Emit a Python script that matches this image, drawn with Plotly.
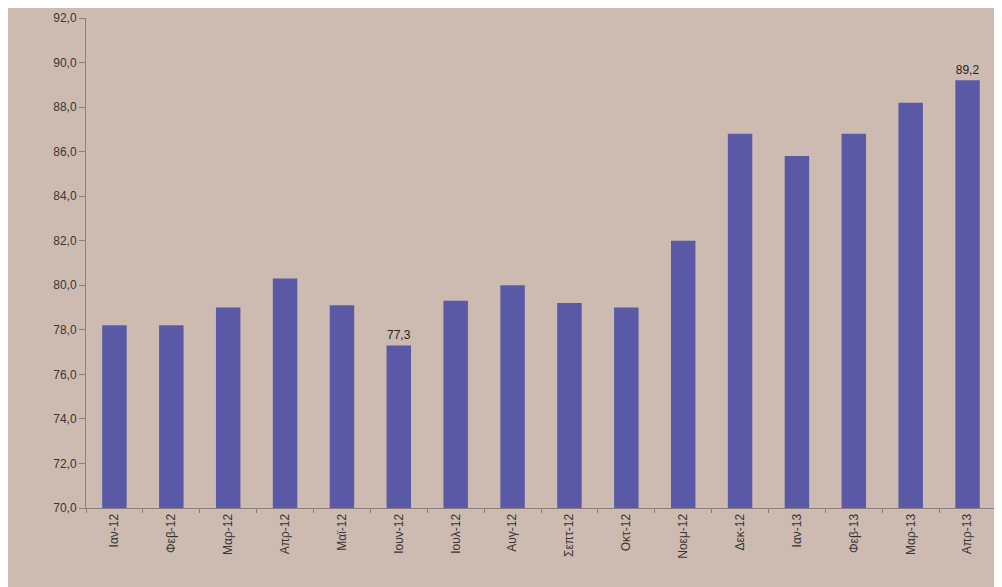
import plotly.graph_objects as go

months = ["Ιαν-12", "Φεβ-12", "Μαρ-12", "Απρ-12", "Μαϊ-12", "Ιουν-12", "Ιουλ-12", "Αυγ-12",
          "Σεπτ-12", "Οκτ-12", "Νοεμ-12", "Δεκ-12", "Ιαν-13", "Φεβ-13", "Μαρ-13", "Απρ-13"]
values = [78.2, 78.2, 79.0, 80.3, 79.1, 77.3, 79.3, 80.0,
          79.2, 79.0, 82.0, 86.8, 85.8, 86.8, 88.2, 89.2]
shown_labels = ["", "", "", "", "", "77,3", "", "", "", "", "", "", "", "", "", "89,2"]
y_ticks = [70, 72, 74, 76, 78, 80, 82, 84, 86, 88, 90, 92]

paper = "#cdbbb2"
bar_col = "#5a59a6"
txt = "#3c3434"

fig = go.Figure(go.Bar(
    x=months, y=values, marker=dict(color=bar_col, line=dict(width=0)),
    text=shown_labels, textposition="outside", cliponaxis=False,
    textfont=dict(family="Liberation Sans", size=12, color="#2a2020"),
    width=0.43,
))
fig.update_layout(
    width=1002, height=587,
    paper_bgcolor=paper, plot_bgcolor=paper,
    margin=dict(l=78, r=14, t=10, b=87),
    separators=",.",
    showlegend=False,
    font=dict(family="Liberation Sans", color=txt),
)
fig.update_yaxes(
    range=[70, 92], tickvals=y_ticks, tickformat=".1f", automargin=False,
    showgrid=False, showline=True, linecolor="#8a7f7a", linewidth=1,
    ticks="outside", ticklen=6, tickcolor="#8a7f7a",
    tickfont=dict(size=12, color=txt, family="Liberation Sans"), zeroline=False,
)
fig.update_xaxes(
    tickangle=-90, showline=True, linecolor="#8a7f7a", linewidth=1, automargin=False,
    ticks="outside", ticklen=4, tickcolor="#8a7f7a", tickson="boundaries",
    tickfont=dict(size=12, color=txt, family="Liberation Sans"),
)
fig.write_html("out.html")
